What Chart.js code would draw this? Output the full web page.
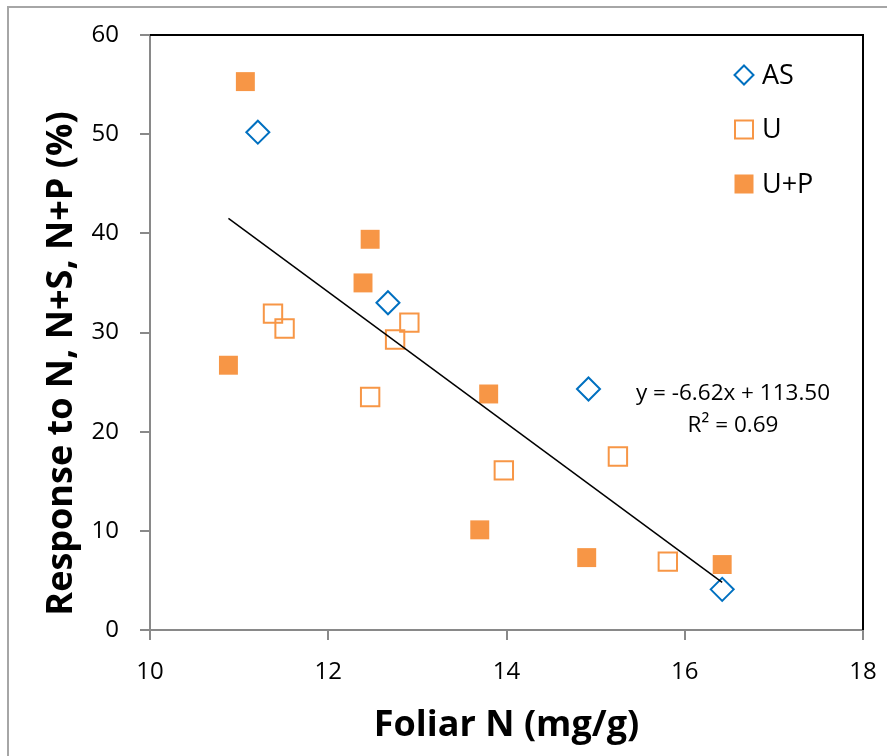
<!DOCTYPE html>
<html>
<head>
<meta charset="utf-8">
<script src="https://cdn.jsdelivr.net/npm/chart.js@4/dist/chart.umd.min.js"></script>
<style>
  html, body { margin: 0; padding: 0; background: #fff; overflow: hidden; }
  #wrap { position: relative; width: 887px; height: 756px; }
  #frame { position: absolute; left: 7px; top: 6px; width: 900px; height: 800px; border: 2px solid #a6a6a6; }
  canvas { position: absolute; left: 0; top: 0; }
</style>
</head>
<body>
<div id="wrap">
  <div id="frame"></div>
  <canvas id="chart" width="887" height="756"></canvas>
</div>
<script>
// --- data ---
const asX = [11.21, 12.67, 14.92, 16.42];
const asY = [50.2, 33.0, 24.3, 4.1];

const uX = [11.38, 11.51, 12.47, 12.75, 12.91, 13.97, 15.25, 15.81];
const uY = [31.9, 30.4, 23.5, 29.3, 31.0, 16.1, 17.5, 6.9];

const upX = [11.07, 10.88, 12.47, 12.39, 13.80, 13.70, 14.90, 16.42];
const upY = [55.3, 26.7, 39.4, 35.0, 23.8, 10.1, 7.3, 6.6];

// trendline end points
const trendX = [10.88, 16.42];
const trendY = [41.5, 4.8];

const xTicks = [10, 12, 14, 16, 18];
const yTicks = [0, 10, 20, 30, 40, 50, 60];

const seriesNames = ['AS', 'U', 'U+P'];
const equationLines = ['y = -6.62x + 113.50', 'R\u00b2 = 0.69'];
const yTitle = 'Response to N, N+S, N+P (%)';

const blue = '#0070c0';
const orange = '#f79646';
const axisGray = '#898989';
const font = '"Open Sans", sans-serif';

function pts(xs, ys) {
    return xs.map((x, i) => ({ x: x, y: ys[i] }));
}

// draws the legend, the y title and the trendline equation
const extrasPlugin = {
    id: 'extras',
    afterDatasetsDraw(chart) {
        const ctx = chart.ctx;
        const area = chart.chartArea;

        // black top / right edge of the plot area
        ctx.save();
        ctx.strokeStyle = '#000';
        ctx.lineWidth = 2;
        ctx.beginPath();
        ctx.moveTo(area.left, area.top);
        ctx.lineTo(area.right, area.top);
        ctx.lineTo(area.right, area.bottom);
        ctx.stroke();

        // legend
        const lx = area.right - 119;
        const ly = area.top + 40;
        const gap = 54.5;
        ctx.font = '27px ' + font;
        ctx.textBaseline = 'middle';
        ctx.textAlign = 'left';
        seriesNames.forEach((name, i) => {
            const cy = ly + i * gap;
            ctx.lineWidth = 2;
            if (i === 0) {
                ctx.strokeStyle = blue;
                ctx.beginPath();
                ctx.moveTo(lx, cy - 9.5);
                ctx.lineTo(lx + 9.5, cy);
                ctx.lineTo(lx, cy + 9.5);
                ctx.lineTo(lx - 9.5, cy);
                ctx.closePath();
                ctx.stroke();
            } else if (i === 1) {
                ctx.strokeStyle = orange;
                ctx.strokeRect(lx - 9, cy - 9, 18, 18);
            } else {
                ctx.fillStyle = orange;
                ctx.fillRect(lx - 9.5, cy - 9.5, 19, 19);
            }
            ctx.fillStyle = '#000';
            ctx.fillText(name, lx + 18, cy + 1);
        });

        // equation
        ctx.font = '22.5px ' + font;
        ctx.textAlign = 'center';
        ctx.fillStyle = '#000';
        ctx.fillText(equationLines[0], area.left + 583, area.top + 359);
        ctx.fillText(equationLines[1], area.left + 583, area.top + 391);

        // y axis title
        ctx.translate(62, (area.top + area.bottom) / 2 + 31);
        ctx.rotate(-Math.PI / 2);
        ctx.font = 'bold 36px ' + font;
        ctx.fillText(yTitle, 0, 0);
        ctx.restore();
    }
};

const ctx = document.getElementById('chart').getContext('2d');

new Chart(ctx, {
    type: 'scatter',
    data: {
        datasets: [{
            type: 'line',
            label: 'trend',
            data: pts(trendX, trendY),
            borderColor: '#000',
            borderWidth: 1.5,
            pointRadius: 0,
            fill: false
        }, {
            label: seriesNames[0],
            data: pts(asX, asY),
            pointStyle: 'rectRot',
            pointRadius: 11.5,
            pointBorderWidth: 2,
            borderColor: blue,
            backgroundColor: 'rgba(0,0,0,0)'
        }, {
            label: seriesNames[1],
            data: pts(uX, uY),
            pointStyle: 'rect',
            pointRadius: 13,
            pointBorderWidth: 2,
            borderColor: orange,
            backgroundColor: 'rgba(0,0,0,0)'
        }, {
            label: seriesNames[2],
            data: pts(upX, upY),
            pointStyle: 'rect',
            pointRadius: 13.4,
            pointBorderWidth: 0,
            borderColor: orange,
            backgroundColor: orange
        }]
    },
    options: {
        responsive: false,
        animation: false,
        layout: { padding: { top: 35, right: 24, left: 0, bottom: 0 } },
        plugins: {
            legend: { display: false },
            tooltip: { enabled: false }
        },
        scales: {
            x: {
                type: 'linear',
                min: xTicks[0],
                max: xTicks[xTicks.length - 1],
                afterBuildTicks: (s) => { s.ticks = xTicks.map(v => ({ value: v })); },
                afterFit: (s) => { s.height = 126; s.paddingLeft = 0; s.paddingRight = 0; },
                grid: { drawOnChartArea: false, tickLength: 10, color: axisGray, lineWidth: 2 },
                border: { color: axisGray, width: 2 },
                ticks: { color: '#000', font: { family: font, size: 24 }, padding: 18 },
                title: {
                    display: true,
                    text: 'Foliar N (mg/g)',
                    color: '#000',
                    font: { family: font, size: 36, weight: 'bold' },
                    padding: { top: 0, bottom: 9 }
                }
            },
            y: {
                type: 'linear',
                min: yTicks[0],
                max: yTicks[yTicks.length - 1],
                afterBuildTicks: (s) => { s.ticks = yTicks.map(v => ({ value: v })); },
                afterFit: (s) => { s.width = 150; s.paddingTop = 0; s.paddingBottom = 0; },
                grid: { drawOnChartArea: false, tickLength: 10, color: axisGray, lineWidth: 2 },
                border: { color: axisGray, width: 2 },
                ticks: { color: '#000', font: { family: font, size: 24 }, padding: 21 },
                title: { display: false }
            }
        }
    },
    plugins: [extrasPlugin]
});
</script>
</body>
</html>
